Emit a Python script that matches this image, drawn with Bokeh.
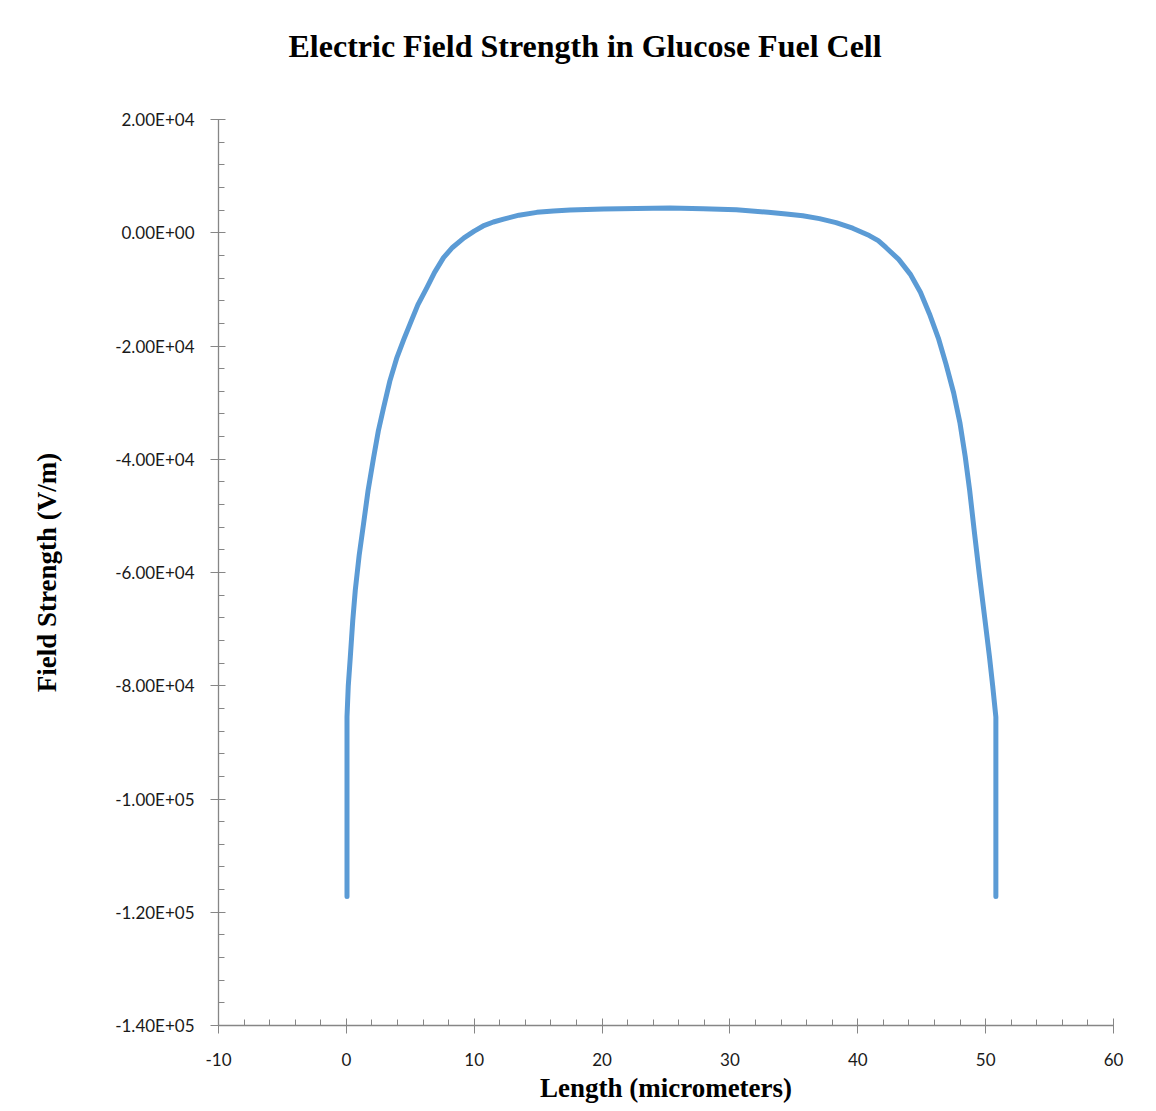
from bokeh.plotting import figure
from bokeh.models import FixedTicker, Range1d
from bokeh.embed import file_html
from bokeh.resources import INLINE

# Data
length_um = [0.05, 0.05, 0.15, 0.31, 0.5, 0.70, 1.0, 1.35, 1.7, 2.13, 2.5, 2.91,
             3.4, 3.96, 4.5, 5.0, 5.6, 6.3, 6.9, 7.6, 8.3, 9.2, 10.0, 10.7, 11.5,
             12.3, 13.5, 14.9, 16.2, 17.5, 20.1, 22.7, 25.3, 27.9, 30.5, 33.0,
             34.4, 35.7, 37.0, 38.3, 39.6, 40.9, 41.6, 42.2, 43.2, 44.1, 44.9,
             45.6, 46.3, 46.9, 47.5, 48.0, 48.4, 48.75, 49.1, 49.5, 49.9, 50.3,
             50.55, 50.8, 50.8]
field_vm = [-117200, -85500, -80000, -74900, -68500, -63100, -57000, -51300,
            -45500, -39700, -35000, -30900, -26200, -22000, -18800, -16000,
            -12700, -9700, -7000, -4400, -2600, -900, 300, 1200, 1900, 2400,
            3100, 3600, 3850, 4000, 4200, 4300, 4350, 4250, 4050, 3600, 3300,
            3000, 2500, 1800, 800, -500, -1400, -2600, -4700, -7300, -10500,
            -14300, -18600, -23200, -28300, -33700, -39500, -45500, -52500,
            -60200, -67500, -74900, -80000, -85500, -117200]

x_ticks = [-10, 0, 10, 20, 30, 40, 50, 60]
x_tick_labels = ["-10", "0", "10", "20", "30", "40", "50", "60"]
y_ticks = [-140000, -120000, -100000, -80000, -60000, -40000, -20000, 0, 20000]
y_tick_labels = ["-1.40E+05", "-1.20E+05", "-1.00E+05", "-8.00E+04", "-6.00E+04",
                 "-4.00E+04", "-2.00E+04", "0.00E+00", "2.00E+04"]

title_text = "Electric Field Strength in Glucose Fuel Cell"
x_label = "Length (micrometers)"
y_label = "Field Strength (V/m)"

p = figure(width=1150, height=1105, output_backend="svg", toolbar_location=None,
           x_range=Range1d(-10, 60), y_range=Range1d(-140000, 20000),
           min_border_left=218, min_border_right=37, min_border_top=119,
           min_border_bottom=79, title=title_text + "\n ")

p.title.text_font = "Liberation Serif"
p.title.text_font_style = "bold"
p.title.text_font_size = "32px"
p.title.align = "left"
p.title.offset = 70
p.title.standoff = 40
p.title.text_color = "#000000"

p.grid.visible = False
p.outline_line_color = None
p.background_fill_color = "white"
p.border_fill_color = "white"

x_minor = [-10 + 2 * i for i in range(36)]
y_minor = [-140000 + 4000 * i for i in range(41)]
p.xaxis.ticker = FixedTicker(ticks=x_ticks, minor_ticks=x_minor)
p.yaxis.ticker = FixedTicker(ticks=y_ticks, minor_ticks=y_minor)
p.xaxis.major_label_overrides = dict(zip(x_ticks, x_tick_labels))
p.yaxis.major_label_overrides = dict(zip(y_ticks, y_tick_labels))

for ax in (p.xaxis, p.yaxis):
    ax.axis_line_color = "#868686"
    ax.axis_line_width = 1.3
    ax.major_tick_line_color = "#868686"
    ax.minor_tick_line_color = "#868686"
    ax.major_tick_out = 8
    ax.major_tick_in = 7
    ax.minor_tick_out = 0
    ax.minor_tick_in = 6
    ax.major_label_text_font = "Lato"
    ax.major_label_text_font_size = "17px"
    ax.major_label_text_color = "#1a1a1a"
    ax.axis_label_text_font = "Liberation Serif"
    ax.axis_label_text_font_style = "bold"
    ax.axis_label_text_font_size = "27px"
    ax.axis_label_text_color = "#000000"

p.xaxis.axis_label = x_label
p.yaxis.axis_label = y_label
p.xaxis.major_label_standoff = 19
p.yaxis.major_label_standoff = 16
p.xaxis.axis_label_standoff = 4
p.yaxis.axis_label_standoff = 50

p.line(length_um, field_vm, line_color="#5B9BD5", line_width=5, line_cap="round",
       line_join="round")

open("out.html", "w").write(file_html(p, INLINE))
